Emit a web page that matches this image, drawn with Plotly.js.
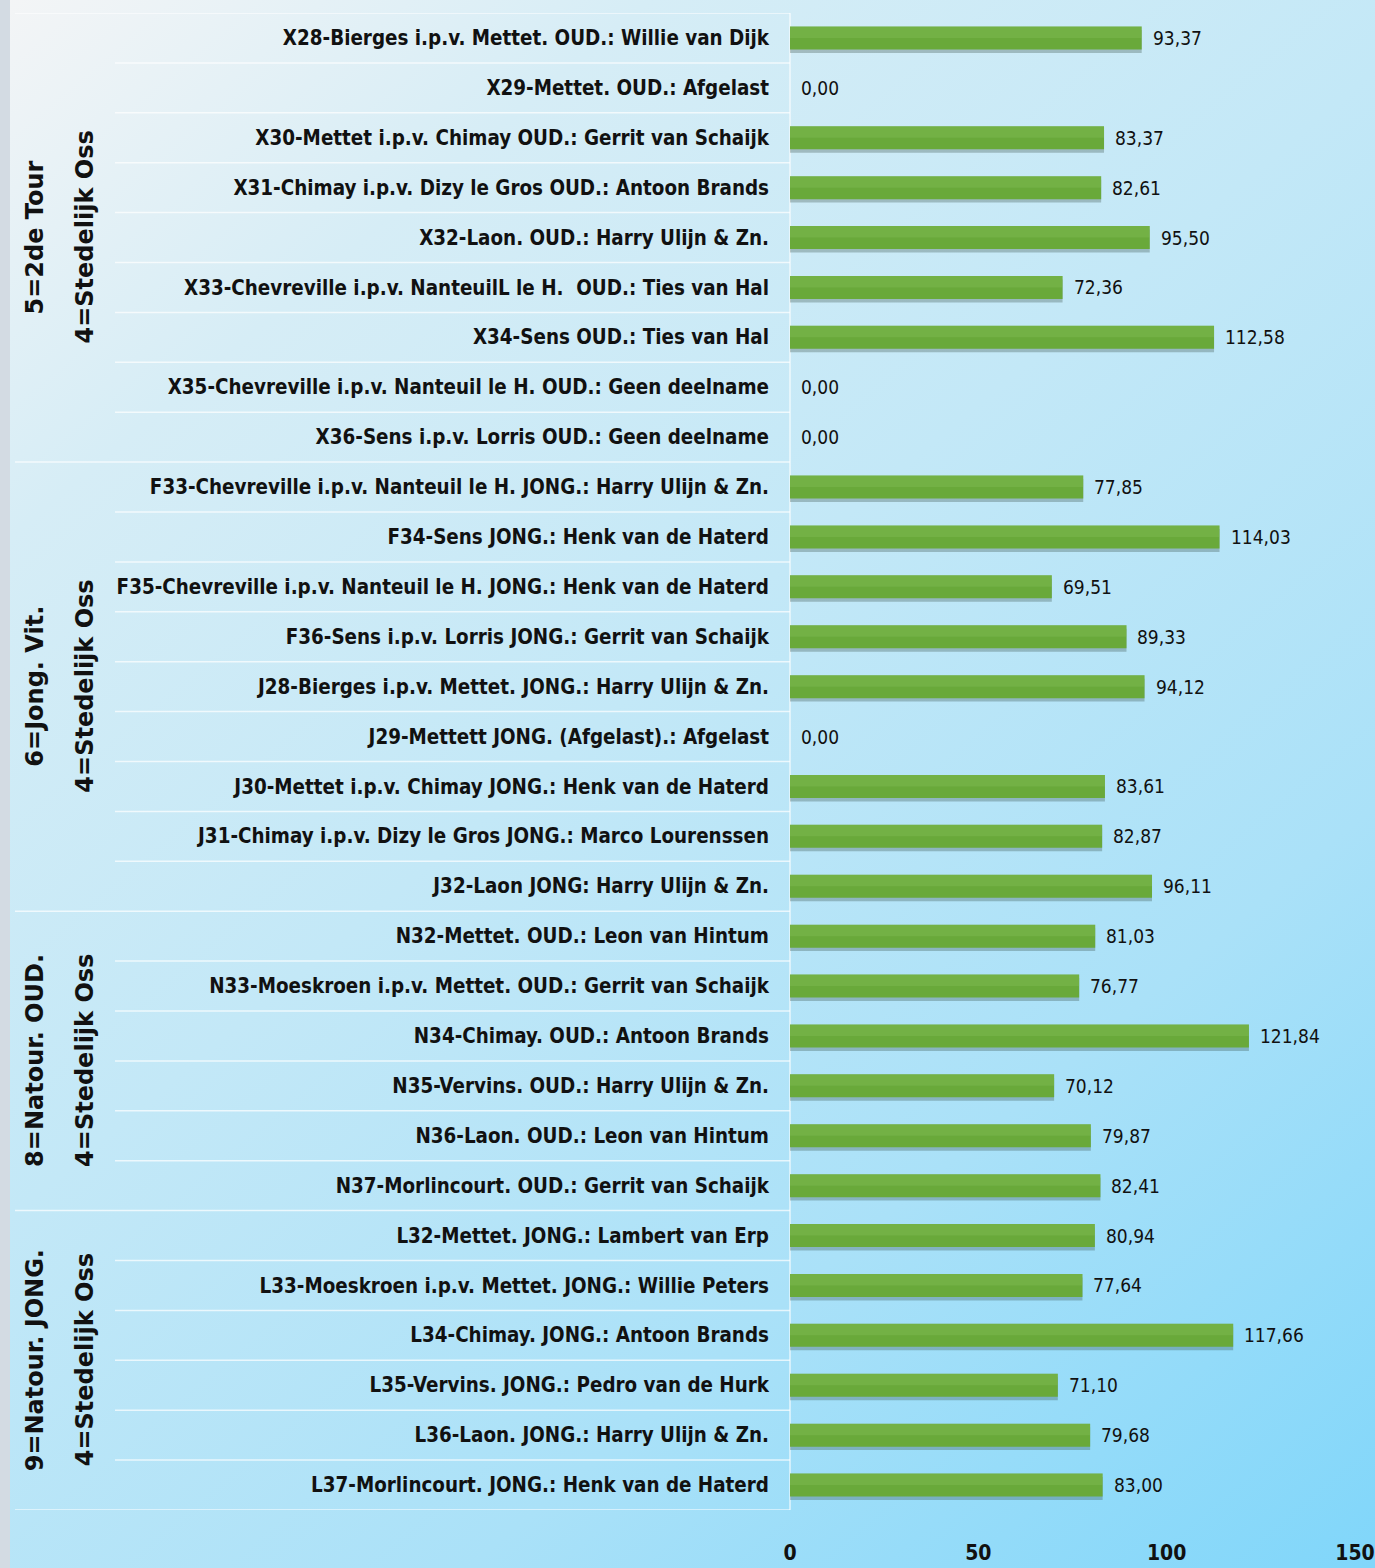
<!DOCTYPE html>
<html>
<head>
<meta charset="utf-8">
<script src="https://cdn.plot.ly/plotly-3.0.1.min.js"></script>
<style>
  html, body { margin: 0; padding: 0; }
  body {
    width: 1375px; height: 1568px; overflow: hidden;
    background:
      linear-gradient(to right, #d3dbe3 0px, #d3dbe3 10px, rgba(0,0,0,0) 10px),
      linear-gradient(140deg, #f4f5f6 0%, #d6edf6 20%, #c3e8f7 45%, #aae1f8 72%, #80d6fa 100%);
  }
  #chart { width: 1375px; height: 1568px; }
</style>
</head>
<body>
<div id="chart"></div>
<script>
const categories = [
  "X28-Bierges i.p.v. Mettet. OUD.: Willie van Dijk",
  "X29-Mettet. OUD.: Afgelast",
  "X30-Mettet i.p.v. Chimay OUD.: Gerrit van Schaijk",
  "X31-Chimay i.p.v. Dizy le Gros OUD.: Antoon Brands",
  "X32-Laon. OUD.: Harry Ulijn & Zn.",
  "X33-Chevreville i.p.v. NanteuilL le H.  OUD.: Ties van Hal",
  "X34-Sens OUD.: Ties van Hal",
  "X35-Chevreville i.p.v. Nanteuil le H. OUD.: Geen deelname",
  "X36-Sens i.p.v. Lorris OUD.: Geen deelname",
  "F33-Chevreville i.p.v. Nanteuil le H. JONG.: Harry Ulijn & Zn.",
  "F34-Sens JONG.: Henk van de Haterd",
  "F35-Chevreville i.p.v. Nanteuil le H. JONG.: Henk van de Haterd",
  "F36-Sens i.p.v. Lorris JONG.: Gerrit van Schaijk",
  "J28-Bierges i.p.v. Mettet. JONG.: Harry Ulijn & Zn.",
  "J29-Mettett JONG. (Afgelast).: Afgelast",
  "J30-Mettet i.p.v. Chimay JONG.: Henk van de Haterd",
  "J31-Chimay i.p.v. Dizy le Gros JONG.: Marco Lourenssen",
  "J32-Laon JONG: Harry Ulijn & Zn.",
  "N32-Mettet. OUD.: Leon van Hintum",
  "N33-Moeskroen i.p.v. Mettet. OUD.: Gerrit van Schaijk",
  "N34-Chimay. OUD.: Antoon Brands",
  "N35-Vervins. OUD.: Harry Ulijn & Zn.",
  "N36-Laon. OUD.: Leon van Hintum",
  "N37-Morlincourt. OUD.: Gerrit van Schaijk",
  "L32-Mettet. JONG.: Lambert van Erp",
  "L33-Moeskroen i.p.v. Mettet. JONG.: Willie Peters",
  "L34-Chimay. JONG.: Antoon Brands",
  "L35-Vervins. JONG.: Pedro van de Hurk",
  "L36-Laon. JONG.: Harry Ulijn & Zn.",
  "L37-Morlincourt. JONG.: Henk van de Haterd"
];
const values = [
  93.37, 0.00, 83.37, 82.61, 95.50, 72.36, 112.58, 0.00, 0.00,
  77.85, 114.03, 69.51, 89.33, 94.12, 0.00, 83.61, 82.87, 96.11,
  81.03, 76.77, 121.84, 70.12, 79.87, 82.41,
  80.94, 77.64, 117.66, 71.10, 79.68, 83.00
];
// groups: first index, last index, outer label, inner label
const groupFirst = [0, 9, 18, 24];
const groupLast  = [8, 17, 23, 29];
const groupOuter = ["5=2de Tour", "6=Jong. Vit.", "8=Natour. OUD.", "9=Natour. JONG."];
const groupInner = ["4=Stedelijk Oss", "4=Stedelijk Oss", "4=Stedelijk Oss", "4=Stedelijk Oss"];
const xTicks = [0, 50, 100, 150];

const W = 1375, H = 1568;
const ML = 790, MR = 20, MT = 13, MB = 58;
const plotW = W - ML - MR;
const px2paperX = p => (p - ML) / plotW;

const labelFont = "DejaVu Sans Condensed, DejaVu Sans, sans-serif";
const fmt = v => v.toFixed(2).replace('.', ',');
const idx = categories.map((_, i) => i);

const barW = 0.46;
const traces = [
  { // soft shadow below bars
    type: 'bar', orientation: 'h', x: values, y: idx,
    width: barW, offset: -barW/2 + 0.07,
    marker: { color: 'rgba(40,60,50,0.28)', line: { width: 0 } },
    hoverinfo: 'skip', showlegend: false
  },
  { // main bar
    type: 'bar', orientation: 'h', x: values, y: idx,
    width: barW, offset: -barW/2,
    marker: { color: '#69a93a', line: { width: 0 } },
    hoverinfo: 'skip', showlegend: false
  },
  { // subtle highlight on upper part
    type: 'bar', orientation: 'h', x: values, y: idx,
    width: barW * 0.5, offset: -barW/2,
    marker: { color: 'rgba(150,205,110,0.22)', line: { width: 0 } },
    hoverinfo: 'skip', showlegend: false
  }
];

const shapes = [];
const annotations = [];
for (let i = 0; i <= categories.length; i++) {
  const b = i - 0.5;
  const isGroupEdge = i === 0 || groupFirst.includes(i) || i === categories.length;
  shapes.push({
    type: 'line', xref: 'paper', yref: 'y',
    x0: px2paperX(isGroupEdge ? 15 : 115), x1: 0, y0: b, y1: b,
    line: { color: 'rgba(255,255,255,0.7)', width: 1.5 }, layer: 'below'
  });
}
shapes.push({
  type: 'line', xref: 'paper', yref: 'y', x0: 0, x1: 0, y0: -0.5, y1: categories.length - 0.5,
  line: { color: 'rgba(255,255,255,0.7)', width: 1.5 }, layer: 'below'
});

values.forEach((v, i) => {
  annotations.push({
    x: v, y: i, xref: 'x', yref: 'y', text: fmt(v), showarrow: false,
    xanchor: 'left', yanchor: 'middle', xshift: 9,
    font: { family: labelFont, size: 19, color: '#111' }
  });
});
groupFirst.forEach((g, k) => {
  const mid = (g + groupLast[k]) / 2;
  annotations.push({
    x: px2paperX(35), y: mid, xref: 'paper', yref: 'y', text: groupOuter[k],
    showarrow: false, textangle: -90, xanchor: 'center', yanchor: 'middle',
    font: { family: 'DejaVu Sans, Verdana, sans-serif', size: 24, color: '#111', weight: 'bold' }
  });
  annotations.push({
    x: px2paperX(85), y: mid, xref: 'paper', yref: 'y', text: groupInner[k],
    showarrow: false, textangle: -90, xanchor: 'center', yanchor: 'middle',
    font: { family: 'DejaVu Sans, Verdana, sans-serif', size: 24, color: '#111', weight: 'bold' }
  });
});

const layout = {
  width: W, height: H,
  margin: { l: ML, r: MR, t: MT, b: MB, pad: 0 },
  paper_bgcolor: 'rgba(0,0,0,0)', plot_bgcolor: 'rgba(0,0,0,0)',
  barmode: 'overlay', showlegend: false,
  xaxis: {
    range: [0, 150], tickvals: xTicks, ticktext: xTicks.map(String),
    showgrid: false, zeroline: false, showline: false, ticks: '',
    ticklabelstandoff: 28, ticklabeloverflow: 'allow',
    tickfont: { family: labelFont, size: 21, color: '#111', weight: 'bold' }
  },
  yaxis: {
    range: [categories.length - 0.5, -0.5],
    tickvals: idx, ticktext: categories,
    showgrid: false, zeroline: false, showline: false, ticks: '',
    ticklabelstandoff: 20,
    tickfont: { family: labelFont, size: 20.4, color: '#111', weight: 'bold' }
  },
  shapes: shapes,
  annotations: annotations
};

Plotly.newPlot('chart', traces, layout, { staticPlot: true, displayModeBar: false });
</script>
</body>
</html>
